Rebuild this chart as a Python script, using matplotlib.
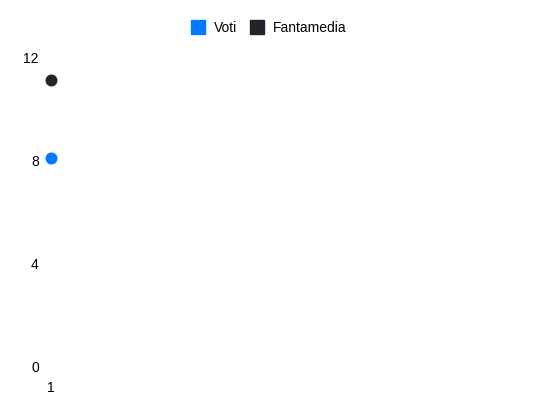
import matplotlib
matplotlib.use("Agg")
import matplotlib.pyplot as plt
from matplotlib.lines import Line2D
from matplotlib.transforms import ScaledTranslation

plt.rcParams.update({
    "font.family": ["Liberation Sans", "DejaVu Sans"], "font.size": 10,
    "figure.facecolor": "white", "axes.facecolor": "white",
})

GIORNATE = [1]
VOTI = [8]
FANTAMEDIA = [11]
Y_TICKS = [0, 4, 8, 12]

C_VOTI = "#007bff"
C_FM = "#212529"

fig = plt.figure(figsize=(5.5, 4.12), dpi=100)
W, H = 550, 412
ax = fig.add_axes([45 / W, (H - 364) / H, 500 / W, (364 - 54.5) / H])

ax.scatter(GIORNATE, VOTI, s=58, color=C_VOTI, zorder=3, clip_on=False)
ax.scatter(GIORNATE, FANTAMEDIA, s=58, color=C_FM, zorder=3, clip_on=False)

ax.set_ylim(0, 12)
ax.set_xlim(0.988, 2.0)
ax.set_yticks(Y_TICKS)
ax.set_yticklabels([str(v) for v in Y_TICKS])
ax.set_xticks(GIORNATE)
ax.set_xticklabels([str(g) for g in GIORNATE])
ax.tick_params(axis="y", length=0, pad=4.5, labelsize=10, colors="#000000")
ax.tick_params(axis="x", length=0, pad=12, labelsize=10, colors="#000000")
# labels sit a little below the value they mark
for lbl in ax.get_yticklabels():
    lbl.set_transform(lbl.get_transform() + ScaledTranslation(0, -2 / 72, fig.dpi_scale_trans))
for s in ax.spines.values():
    s.set_visible(False)

handles = [
    Line2D([], [], marker="s", linestyle="none", markersize=10, color=C_VOTI, label="Voti"),
    Line2D([], [], marker="s", linestyle="none", markersize=10, color=C_FM, label="Fantamedia"),
]
fig.legend(handles=handles, loc="center", bbox_to_anchor=(269 / W, (H - 28) / H),
           ncol=2, frameon=False, handlelength=1.0, handletextpad=0.65,
           columnspacing=0.95, fontsize=10)

fig.savefig("out.png", dpi=100)
